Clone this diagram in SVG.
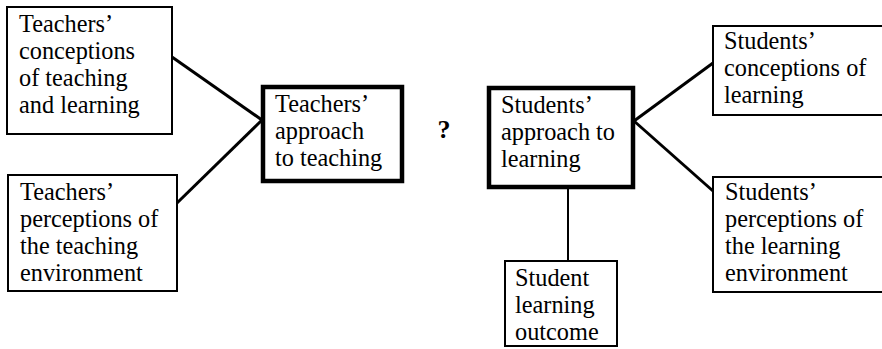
<svg xmlns="http://www.w3.org/2000/svg" width="882" height="349" viewBox="0 0 882 349">
<style>
.box{fill:#fff;stroke:#000;stroke-width:2}
.thick{fill:#fff;stroke:#000;stroke-width:4.5}
text{font-family:"Liberation Serif","Times New Roman",serif;font-size:24.3px;fill:#000}
.q{font-weight:bold;text-anchor:middle;font-size:26px}
.con{stroke:#000;stroke-width:3;fill:none}
</style>
<rect width="882" height="349" fill="#fff"/>
<g id="connectors">
<line class="con" x1="172" y1="57" x2="262" y2="120"/>
<line class="con" x1="177" y1="203" x2="262" y2="120"/>
<line class="con" x1="634" y1="121" x2="713" y2="63"/>
<line class="con" x1="634" y1="121" x2="713" y2="191"/>
<line class="con" x1="568" y1="188" x2="568" y2="261" style="stroke-width:2"/>
</g>
<g id="teachers-conceptions">
<rect class="box" x="7" y="7" width="165" height="127"/>
<text x="19" y="32">Teachers’</text>
<text x="19" y="59">conceptions</text>
<text x="19" y="86">of teaching</text>
<text x="19" y="113">and learning</text>
</g>
<g id="teachers-perceptions">
<rect class="box" x="8" y="175" width="169" height="116"/>
<text x="20" y="200">Teachers’</text>
<text x="20" y="227">perceptions of</text>
<text x="20" y="254">the teaching</text>
<text x="20" y="281">environment</text>
</g>
<g id="teachers-approach">
<rect class="thick" x="263" y="87" width="139" height="94"/>
<text x="275" y="112">Teachers’</text>
<text x="275" y="139">approach</text>
<text x="275" y="166">to teaching</text>
</g>
<g id="question">
<text class="q" x="444" y="138">?</text>
</g>
<g id="students-approach">
<rect class="thick" x="489" y="88" width="144" height="99"/>
<text x="501" y="113">Students’</text>
<text x="501" y="140">approach to</text>
<text x="501" y="167">learning</text>
</g>
<g id="students-conceptions">
<rect class="box" x="713" y="26" width="175" height="89"/>
<text x="724" y="49">Students’</text>
<text x="724" y="76">conceptions of</text>
<text x="724" y="103">learning</text>
</g>
<g id="students-perceptions">
<rect class="box" x="713" y="177" width="175" height="115"/>
<text x="725" y="200">Students’</text>
<text x="725" y="227">perceptions of</text>
<text x="725" y="254">the learning</text>
<text x="725" y="281">environment</text>
</g>
<g id="student-outcome">
<rect class="box" x="505" y="261" width="112" height="85"/>
<text x="515" y="286">Student</text>
<text x="515" y="313">learning</text>
<text x="515" y="340">outcome</text>
</g>
</svg>
